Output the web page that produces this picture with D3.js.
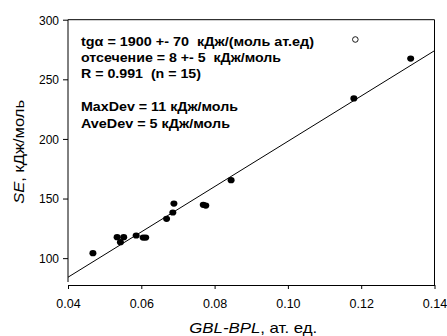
<!DOCTYPE html>
<html><head><meta charset="utf-8">
<script src="https://cdn.jsdelivr.net/npm/d3@7"></script>
<style>body{margin:0;background:#fff}svg{display:block}text{font-family:"Liberation Sans",Arial,sans-serif;white-space:pre}</style>
</head><body>
<svg id="c" width="447" height="336"></svg>
<script>
const xs = [0.0468,0.0534,0.0543,0.0552,0.0586,0.0605,0.0612,0.0669,0.0686,0.0689,0.0769,0.0776,0.0845,0.1180,0.1335];
const ys = [104.2,117.6,113.4,117.6,119.0,117.3,117.3,133.0,138.3,145.8,144.7,144.1,165.4,234.0,267.4];
const outlierX = [0.1184];
const outlierY = [283.4];
const fitSlope = 1900, fitIntercept = 8;
const xTicks = [0.04,0.06,0.08,0.10,0.12,0.14];
const yTicks = [100,150,200,250,300];
const notes = ["tgα = 1900 +- 70  кДж/(моль ат.ед)","отсечение = 8 +- 5  кДж/моль","R = 0.991  (n = 15)","","MaxDev = 11 кДж/моль","AveDev = 5 кДж/моль"];

const svg = d3.select("#c");
const L=68, R=434.5, T=19.7, B=282;
const noteWidths = [233,200,120,0,157,149];
const x = d3.scaleLinear().domain([0.04,0.14]).range([L,R]);
const y = d3.scaleLinear().domain([80,300]).range([B,T]);

svg.append("path").attr("d",`M${L},${B}V${T}H${R}V${B+3}`).attr("fill","none").attr("stroke","#000").attr("stroke-width",1);

const xa = svg.append("g").attr("transform",`translate(0,${B+3})`)
  .call(d3.axisBottom(x).tickValues(xTicks).tickFormat(d3.format(".2f")).tickSize(4).tickSizeOuter(0));
const ya = svg.append("g").attr("transform",`translate(${L},0)`)
  .call(d3.axisLeft(y).tickValues(yTicks).tickFormat(d3.format("d")).tickSize(5).tickSizeOuter(0));
[xa,ya].forEach(a=>{a.select(".domain").attr("stroke","#000");a.selectAll("line").attr("stroke","#000");
  a.selectAll("text").attr("font-family","Liberation Sans, Arial, sans-serif").attr("fill","#000");});
xa.selectAll("text").attr("font-size",12.5).attr("y",23.3).attr("dy",null);
ya.selectAll("text").attr("font-size",12).attr("x",-9).attr("dy","0.36em");
ya.select(".domain").remove();

svg.append("line").attr("x1",x(0.04)).attr("y1",y(fitIntercept+fitSlope*0.04))
  .attr("x2",x(0.14)).attr("y2",y(fitIntercept+fitSlope*0.14)).attr("stroke","#000").attr("stroke-width",1);

svg.selectAll("ellipse.pt").data(xs.map((d,i)=>[d,ys[i]])).enter().append("ellipse")
  .attr("cx",d=>x(d[0])).attr("cy",d=>y(d[1])).attr("rx",3.5).attr("ry",3.1).attr("fill","#000");
svg.selectAll("circle.out").data(outlierX.map((d,i)=>[d,outlierY[i]])).enter().append("circle")
  .attr("cx",d=>x(d[0])).attr("cy",d=>y(d[1])).attr("r",2.8).attr("fill","#fff").attr("stroke","#000").attr("stroke-width",0.9);

notes.forEach((s,i)=>{ if(!s) return;
  svg.append("text").attr("x",81).attr("y",45.6+i*16.4).attr("font-size",12).attr("font-weight","bold")
    .attr("textLength",noteWidths[i]).attr("lengthAdjust","spacingAndGlyphs").text(s);
});

svg.append("text").attr("transform",`translate(24,${(T+B)/2+1}) rotate(-90)`).attr("text-anchor","middle")
  .attr("font-size",15).attr("textLength",104).attr("lengthAdjust","spacingAndGlyphs")
  .html('<tspan font-style="italic">SE</tspan>, кДж/моль');
svg.append("text").attr("x",(L+R)/2+2).attr("y",332.7).attr("text-anchor","middle")
  .attr("font-size",15).attr("textLength",128).attr("lengthAdjust","spacingAndGlyphs")
  .html('<tspan font-style="italic">GBL-BPL</tspan>, ат. ед.');
</script>
</body></html>
